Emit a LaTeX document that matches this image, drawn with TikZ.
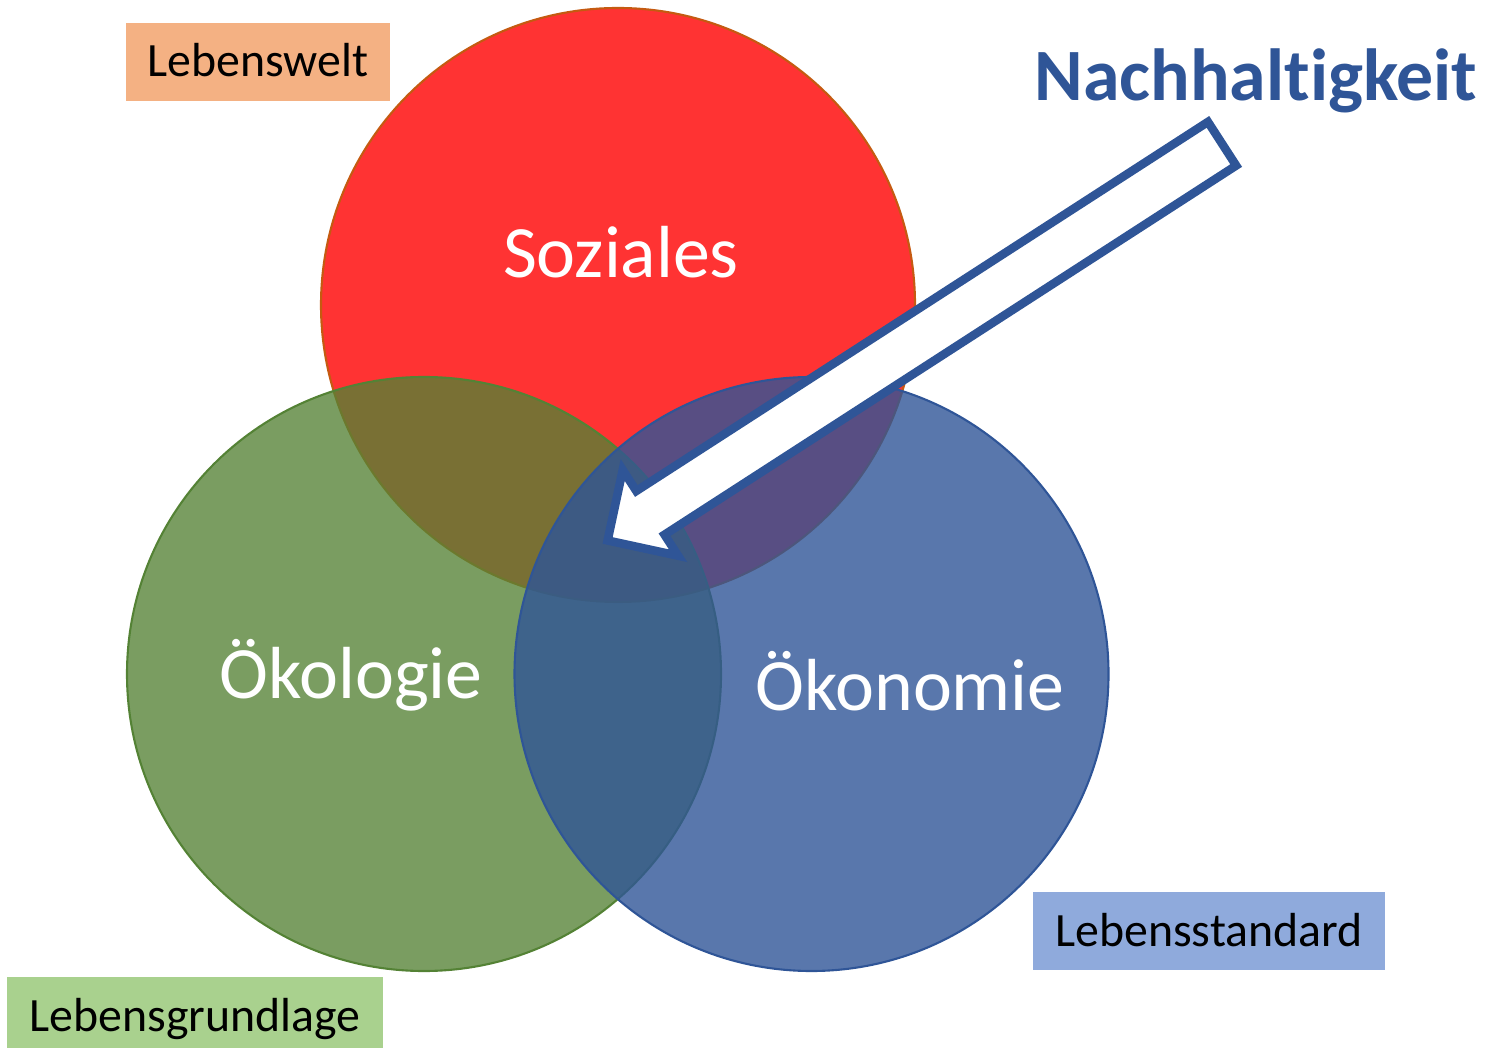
\documentclass[tikz,border=0pt]{standalone}
\usepackage{fontspec}
\setmainfont{Carlito}[Ligatures=NoCommon]
\usetikzlibrary{positioning,calc}

\definecolor{sozialrot}{RGB}{255,51,51}
\definecolor{sozialrand}{RGB}{197,90,17}
\definecolor{oekogruen}{RGB}{84,130,53}
\definecolor{oekoblau}{RGB}{47,85,151}
\definecolor{weltorange}{RGB}{244,177,131}
\definecolor{grundgruen}{RGB}{169,209,142}
\definecolor{standardblau}{RGB}{143,170,220}

\begin{document}
\begin{tikzpicture}[line join = miter,
    kreis/.style = {line width = 0.6pt},
    beschriftung/.style = {text = white, font = \fontsize{21}{25}\selectfont, anchor = base},
    kasten/.style = {font = \fontsize{13.6}{16}\selectfont, inner sep = 0pt, text height = 0.30cm, text depth = 0cm},
    pfeil/.style = {draw = oekoblau, fill = white, line width = 0.085cm}]
    \useasboundingbox (0, 0) rectangle (15.11, 10.48);

    % Kreise
    \draw [kreis, fill = sozialrot, draw = sozialrand] (6.18, 7.43) circle (2.97);
    \draw [kreis, fill = oekogruen, fill opacity = 0.78, draw = oekogruen] (4.24, 3.74) circle (2.97);
    \draw [kreis, fill = oekoblau, fill opacity = 0.8, draw = oekoblau] (8.115, 3.74) circle (2.97);

    \node [beschriftung] (soziales) at (6.21, 7.70) {Soziales};
    \node [beschriftung] (oekologie) at (3.51, 3.50) {Ökologie};
    \node [beschriftung] (oekonomie) at (9.10, 3.38) {Ökonomie};

    % Kaesten
    \node [kasten, fill = weltorange, minimum width = 2.64cm, minimum height = 0.78cm] (lebenswelt) at (2.58, 9.86) {Lebenswelt};
    \node [kasten, fill = grundgruen, minimum width = 3.76cm, minimum height = 0.71cm, text height = 0.38cm] (lebensgrundlage) at (1.95, 0.355) {Lebensgrundlage};
    \node [kasten, fill = standardblau, minimum width = 3.52cm, minimum height = 0.78cm] (lebensstandard) at (12.09, 1.17) {Lebensstandard};

    % Pfeil
    \begin{scope}[shift = {(6.13, 5.11)}, rotate = 32.85]
        \draw [pfeil] (-0.064, 0) -- (0.445, 0.51) -- (0.445, 0.26) -- (7.25, 0.26) -- (7.25, -0.26) -- (0.445, -0.26) -- (0.445, -0.51) -- cycle;
    \end{scope}

    \node [font = \fontsize{21}{25}\selectfont\bfseries, text = oekoblau, anchor = base] (nachhaltigkeit) at (12.56, 9.47) {Nachhaltigkeit};
\end{tikzpicture}
\end{document}
